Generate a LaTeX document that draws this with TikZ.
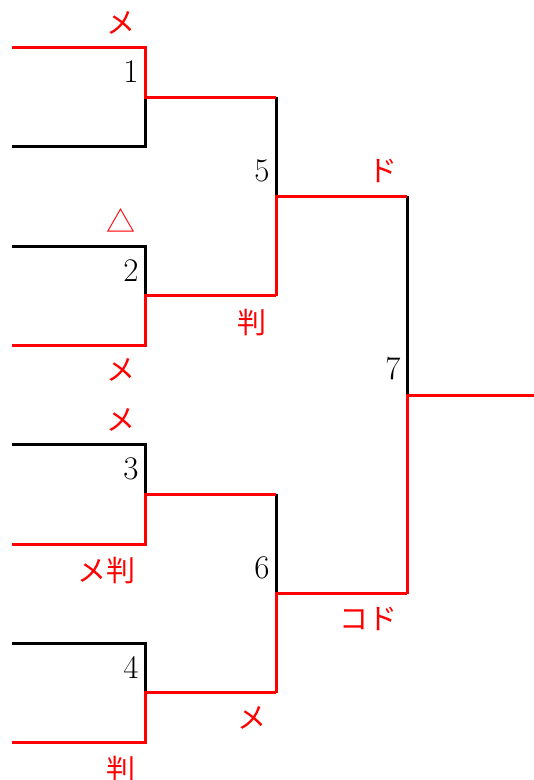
\documentclass[tikz,border=0pt]{standalone}
\usepackage{fontspec}
\newfontfamily\jpfont{Noto Sans CJK JP}
\usetikzlibrary{positioning}

\begin{document}
\begin{tikzpicture}[x=0.5pt, y=-0.5pt, line width=1.5pt,
    win/.style = {red},
    num/.style = {inner sep=0pt, font=\fontsize{16.5}{19}\selectfont},
    res/.style = {inner sep=0pt, red, font=\jpfont\fontsize{14.5}{17}\selectfont}]
    \useasboundingbox (0,0) rectangle (534,780);

    \coordinate (a1) at (12,47.5);
    \coordinate (a2) at (12,146.8);
    \coordinate (a3) at (12,246.1);
    \coordinate (a4) at (12,345.4);
    \coordinate (a5) at (12,444.7);
    \coordinate (a6) at (12,544);
    \coordinate (a7) at (12,643.3);
    \coordinate (a8) at (12,742.6);

    \coordinate (m1) at (145,97.15);
    \coordinate (m2) at (145,295.75);
    \coordinate (m3) at (145,494.35);
    \coordinate (m4) at (145,692.95);
    \coordinate (m5) at (276,196.45);
    \coordinate (m6) at (276,593.65);
    \coordinate (m7) at (407,395.05);
    \coordinate (champ) at (534,395.05);

    \draw (a2) -| (m1);
    \draw (a3) -| (m2);
    \draw (a5) -| (m3);
    \draw (a7) -| (m4);
    \draw (m1 -| m5) -- (m5);
    \draw (m3 -| m6) -- (m6);
    \draw (m5 -| m7) -- (m7);

    \draw[win] (a1) -| (m1) -- (m1 -| m5);
    \draw[win] (a4) -| (m2) -- (m2 -| m5);
    \draw[win] (a6) -| (m3) -- (m3 -| m6);
    \draw[win] (a8) -| (m4) -- (m4 -| m6);
    \draw[win] (m2 -| m5) -- (m5) -- (m5 -| m7);
    \draw[win] (m4 -| m6) -- (m6) -- (m6 -| m7);
    \draw[win] (m6 -| m7) -- (m7) -- (champ);

    \node[num, above left=6.5pt and 2.5pt] (n1) at (m1) {1};
    \node[num, above left=6.5pt and 2.5pt] (n2) at (m2) {2};
    \node[num, above left=6.5pt and 2.5pt] (n3) at (m3) {3};
    \node[num, above left=6.5pt and 2.5pt] (n4) at (m4) {4};
    \node[num, above left=6.5pt and 2.5pt] (n5) at (m5) {5};
    \node[num, above left=6.5pt and 2.5pt] (n6) at (m6) {6};
    \node[num, above left=7pt and 2.5pt] (n7) at (m7) {7};

    \node[res, above left=6pt and 4pt] (r1) at (m1 |- a1) {メ};
    \node[res, above left=6pt and 4pt] (r3) at (m2 |- a3) {△};
    \node[res, below left=6pt and 4pt] (r4) at (m2 |- a4) {メ};
    \node[res, above left=6pt and 4pt] (r5) at (m3 |- a5) {メ};
    \node[res, below left=6pt and 4pt] (r6) at (m3 |- a6) {メ判};
    \node[res, below left=6pt and 4pt] (r8) at (m4 |- a8) {判};
    \node[res, below left=6pt and 4pt] (q2) at (m2 -| m5) {判};
    \node[res, below left=6pt and 4pt] (q4) at (m4 -| m6) {メ};
    \node[res, above left=6pt and 4pt] (s5) at (m5 -| m7) {ド};
    \node[res, below left=6pt and 4pt] (s6) at (m6 -| m7) {コド};
\end{tikzpicture}
\end{document}
